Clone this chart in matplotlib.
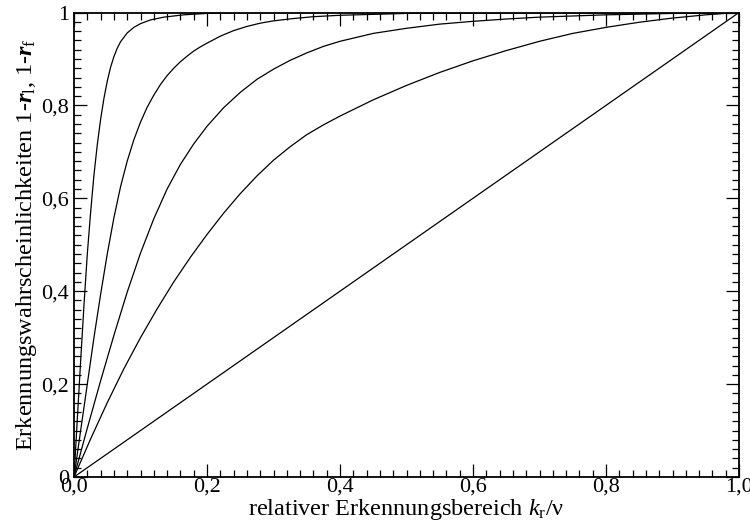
import matplotlib
matplotlib.use("Agg")
import matplotlib.pyplot as plt
from matplotlib.ticker import MultipleLocator

plt.rcParams["font.family"] = ["Liberation Serif", "DejaVu Serif"]
plt.rcParams["mathtext.fontset"] = "custom"
plt.rcParams["mathtext.rm"] = "Liberation Serif"
plt.rcParams["mathtext.it"] = "Liberation Serif:italic"
plt.rcParams["mathtext.bf"] = "Liberation Serif:bold"
try:
    plt.rcParams["mathtext.bfit"] = "Liberation Serif:italic:bold"
except KeyError:
    pass

# Detection probability curves over the relative detection range
curve_a_x = [0, 0.005, 0.010, 0.015, 0.020, 0.025, 0.030, 0.035, 0.040, 0.045,
             0.050, 0.055, 0.060, 0.065, 0.070, 0.080, 0.090, 0.100, 0.115,
             0.135, 0.165, 0.20, 0.25, 0.30, 1.0]
curve_a_y = [0, 0.125, 0.25, 0.37, 0.48, 0.57, 0.65, 0.715, 0.77, 0.815,
             0.852, 0.882, 0.905, 0.923, 0.937, 0.956, 0.968, 0.976, 0.984,
             0.990, 0.995, 0.998, 0.9995, 1.0, 1.0]

curve_b_x = [0, 0.01, 0.02, 0.03, 0.04, 0.05, 0.06, 0.07, 0.08, 0.09, 0.10,
             0.11, 0.12, 0.13, 0.14, 0.15, 0.16, 0.17, 0.18, 0.19, 0.20,
             0.22, 0.24, 0.26, 0.28, 0.30, 0.33, 0.36, 0.40, 0.45, 0.50,
             0.60, 1.0]
curve_b_y = [0, 0.10, 0.20, 0.30, 0.393, 0.48, 0.558, 0.625, 0.68, 0.726, 0.764,
             0.796, 0.822, 0.845, 0.864, 0.88, 0.894, 0.906, 0.917, 0.926, 0.934,
             0.949, 0.961, 0.970, 0.977, 0.982, 0.987, 0.991, 0.994, 0.996, 0.998,
             0.999, 1.0]

curve_c_x = [0, 0.02, 0.04, 0.06, 0.08, 0.10, 0.12, 0.14, 0.16, 0.18, 0.20,
             0.225, 0.25, 0.275, 0.30, 0.325, 0.35, 0.375, 0.40, 0.45, 0.50,
             0.55, 0.60, 0.65, 0.70, 0.80, 0.90, 1.0]
curve_c_y = [0, 0.105, 0.207, 0.305, 0.398, 0.482, 0.556, 0.62, 0.673, 0.717, 0.755,
             0.795, 0.828, 0.856, 0.878, 0.897, 0.913, 0.927, 0.938, 0.955, 0.966,
             0.975, 0.981, 0.986, 0.99, 0.995, 0.998, 1.0]

curve_d_x = [0, 0.025, 0.05, 0.075, 0.10, 0.125, 0.15, 0.175, 0.20, 0.225,
             0.25, 0.275, 0.30, 0.325, 0.35, 0.375, 0.40, 0.45, 0.50, 0.55,
             0.60, 0.65, 0.70, 0.75, 0.80, 0.85, 0.90, 0.95, 1.0]
curve_d_y = [0, 0.082, 0.16, 0.233, 0.30, 0.362, 0.42, 0.473, 0.522, 0.568,
             0.61, 0.648, 0.682, 0.711, 0.737, 0.758, 0.777, 0.812, 0.843, 0.871,
             0.896, 0.918, 0.938, 0.955, 0.968, 0.979, 0.988, 0.995, 1.0]

diag_x = [0, 1.0]
diag_y = [0, 1.0]

curves = [(curve_a_x, curve_a_y), (curve_b_x, curve_b_y),
          (curve_c_x, curve_c_y), (curve_d_x, curve_d_y), (diag_x, diag_y)]

x_ticks = [0.0, 0.2, 0.4, 0.6, 0.8, 1.0]
x_tick_labels = ["0,0", "0,2", "0,4", "0,6", "0,8", "1,0"]
y_ticks = [0.0, 0.2, 0.4, 0.6, 0.8, 1.0]
y_tick_labels = ["0", "0,2", "0,4", "0,6", "0,8", "1"]

fig = plt.figure(figsize=(7.5, 5.32), dpi=100)
ax = fig.add_axes([74 / 750, 55 / 532, 665 / 750, 464.5 / 532])

for xs, ys in curves:
    ax.plot(xs, ys, color="black", linewidth=0.9, solid_joinstyle="round")

ax.set_xlim(0, 1)
ax.set_ylim(0, 1)
ax.set_xticks(x_ticks)
ax.set_xticklabels(x_tick_labels)
ax.set_yticks(y_ticks)
ax.set_yticklabels(y_tick_labels)
ax.xaxis.set_minor_locator(MultipleLocator(0.02))
ax.yaxis.set_minor_locator(MultipleLocator(0.02))

ax.tick_params(which="both", direction="in", top=True, right=True,
               labelsize=16, colors="black")
ax.tick_params(which="major", length=9.5, width=0.9)
ax.tick_params(which="minor", length=5, width=0.9)
ax.tick_params(axis="x", which="major", pad=0.5)
ax.tick_params(axis="y", which="major", pad=3.5)

for s in ax.spines.values():
    s.set_linewidth(1.3)

ax.set_xlabel(r"relativer Erkennungsbereich $k_\mathrm{r}$/ν", fontsize=17.5, labelpad=0)
ax.set_ylabel(r"Erkennungswahrscheinlichkeiten 1-$\boldsymbol{r}_\mathrm{l}$, "
              r"1-$\boldsymbol{r}_\mathrm{f}$", fontsize=17.5, labelpad=2)

fig.savefig("out.png", dpi=100)
